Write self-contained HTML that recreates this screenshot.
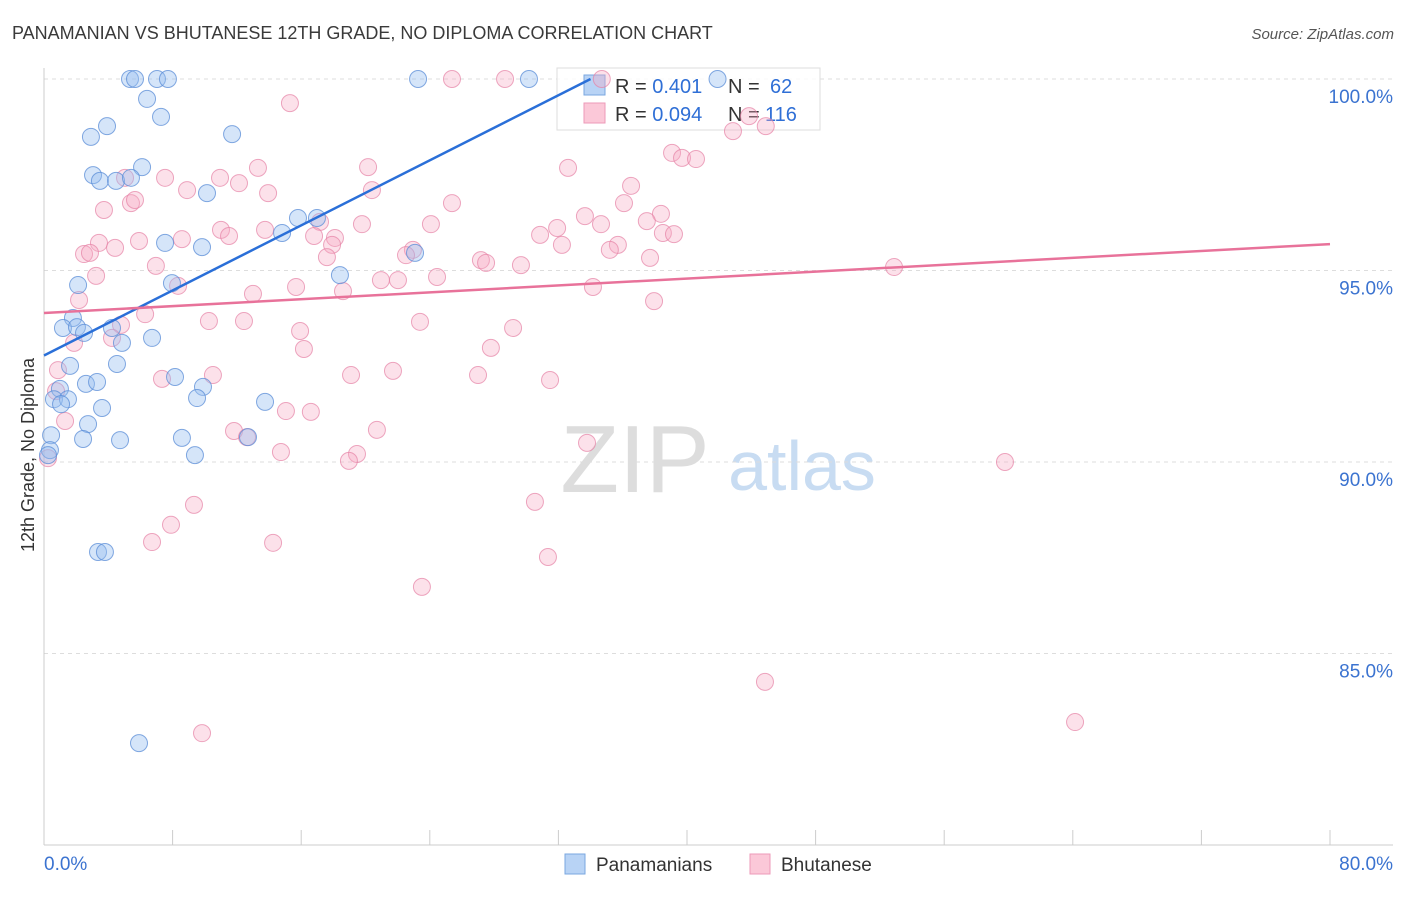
<!DOCTYPE html>
<html><head><meta charset="utf-8"><style>
body{margin:0;background:#fff;font-family:"Liberation Sans",sans-serif;}
svg text{font-family:"Liberation Sans",sans-serif;}
</style></head><body>
<svg id="chart" width="1406" height="892" xmlns="http://www.w3.org/2000/svg">
<text x="12" y="39" font-size="18" fill="#3a3a3a">PANAMANIAN VS BHUTANESE 12TH GRADE, NO DIPLOMA CORRELATION CHART</text>
<text x="1394" y="39" font-size="15" fill="#555" font-style="italic" text-anchor="end">Source: ZipAtlas.com</text>
<text transform="translate(34,455) rotate(-90)" font-size="18" fill="#333" text-anchor="middle">12th Grade, No Diploma</text>
<g>
<text x="635" y="492" font-size="96" fill="#ddd" font-family="Liberation Serif" text-anchor="middle">ZIP</text>
<text x="802" y="490" font-size="70" fill="#c8dcf2" text-anchor="middle">atlas</text>
</g>
<g id="grid"></g><g id="axes"></g>
<g>
<rect x="557" y="68" width="263" height="62" fill="rgba(255,255,255,0.85)" stroke="#ddd"/>
<rect x="584" y="75" width="21" height="20" fill="#b8d3f5" stroke="#7aa7e0"/>
<rect x="584" y="103" width="21" height="20" fill="#fbc8d8" stroke="#ec9ab8"/>
<text x="615" y="93" font-size="20" fill="#333">R = <tspan fill="#2f6fd6">0.401</tspan><tspan x="728">N = </tspan><tspan x="770" fill="#2f6fd6">62</tspan></text>
<text x="615" y="121" font-size="20" fill="#333">R = <tspan fill="#2f6fd6">0.094</tspan><tspan x="728">N = </tspan><tspan x="765" fill="#2f6fd6">116</tspan></text>
</g>
<g id="pts"></g><g id="lines"></g>
<g>
<rect x="565" y="854" width="20" height="20" fill="#b8d3f5" stroke="#7aa7e0"/>
<text x="596" y="871" font-size="19" fill="#333">Panamanians</text>
<rect x="750" y="854" width="20" height="20" fill="#fbc8d8" stroke="#ec9ab8"/>
<text x="781" y="871" font-size="19" fill="#333">Bhutanese</text>
</g>
</svg>
<script>
const yTicks=[100,95,90,85];
const yTickLabels=["100.0%","95.0%","90.0%","85.0%"];
const xTickLabels=["0.0%","80.0%"];
const blueX=[5.35,5.66,7.03,7.71,23.27,30.17,41.9,6.41,7.28,3.92,2.92,11.7,6.10,3.05,3.48,4.48,5.41,10.14,15.8,16.98,14.81,7.53,9.83,23.08,18.41,7.96,2.12,1.8,1.18,2.05,2.49,4.23,6.72,4.85,1.62,4.54,8.15,0.99,2.61,3.3,9.89,0.62,1.49,1.06,9.52,13.75,3.61,2.74,0.44,2.43,4.73,8.58,12.69,0.37,0.25,9.39,3.36,3.79,5.91];
const blueY=[100,100,100,100,100,100,100,99.48,99.01,98.77,98.49,98.56,97.70,97.49,97.34,97.34,97.42,97.02,96.37,96.37,95.98,95.72,95.61,95.46,94.88,94.67,94.62,93.76,93.5,93.52,93.37,93.5,93.24,93.11,92.51,92.56,92.22,91.91,92.04,92.09,91.96,91.64,91.64,91.51,91.67,91.57,91.41,90.99,90.7,90.6,90.57,90.63,90.65,90.31,90.18,90.18,87.65,87.65,82.66];
const pinkX=[25.38,28.68,34.7,15.3,43.86,42.86,44.9,39.07,39.69,40.56,20.16,13.31,32.6,7.53,10.95,12.13,5.04,20.4,8.9,13.94,36.52,25.38,36.08,5.41,5.66,3.73,33.65,38.38,37.5,34.65,24.07,19.78,17.17,11.01,13.75,11.51,30.86,31.92,38.5,39.19,16.8,18.1,8.58,3.42,5.91,4.42,35.7,17.92,32.22,35.2,2.49,2.86,22.95,22.52,17.6,27.18,27.5,37.7,29.67,6.96,52.88,3.24,20.96,22.02,24.45,8.34,15.68,18.6,34.15,13.0,2.18,37.95,6.29,12.44,10.26,23.39,4.79,29.18,15.93,4.23,1.87,16.17,27.8,0.87,10.51,19.1,21.71,27.0,7.34,31.48,0.75,15.05,16.6,1.31,11.82,20.71,12.63,33.78,14.74,19.47,18.97,59.78,0.25,9.33,30.54,7.9,6.72,14.25,31.35,23.51,44.85,64.14,9.83];
const pinkY=[100,100,100,99.37,99.03,98.64,98.77,98.07,97.94,97.91,97.7,97.68,97.68,97.42,97.42,97.28,97.42,97.1,97.1,97.02,97.21,96.76,96.76,96.76,96.84,96.58,96.42,96.48,96.29,96.21,96.21,96.21,96.27,96.06,96.06,95.9,95.93,96.11,95.98,95.95,95.9,95.85,95.82,95.72,95.77,95.59,95.67,95.67,95.67,95.54,95.43,95.46,95.54,95.4,95.35,95.27,95.2,95.33,95.14,95.12,95.09,94.86,94.75,94.75,94.83,94.6,94.57,94.46,94.57,94.39,94.23,94.2,93.86,93.68,93.68,93.66,93.58,93.5,93.42,93.24,93.11,92.95,92.98,92.4,92.27,92.27,92.38,92.27,92.17,92.14,91.85,91.33,91.31,91.07,90.81,90.84,90.65,90.5,90.26,90.21,90.03,90.0,90.1,88.88,88.96,88.36,87.91,87.89,87.52,86.74,84.26,83.21,82.92];
const blueTrend=[0,92.78,34,100];
const pinkTrend=[0,93.89,80,95.69];

const NS="http://www.w3.org/2000/svg";
const X0=44,X1=1330;
const sx=v=>X0+(v/80)*(X1-X0);
const sy=v=>79+(100-v)*38.3;
function mk(tag,attrs,parent){const e=document.createElementNS(NS,tag);for(const k in attrs)e.setAttribute(k,attrs[k]);parent.appendChild(e);return e;}
const grid=document.getElementById('grid'),axes=document.getElementById('axes'),pts=document.getElementById('pts'),lines=document.getElementById('lines');
yTicks.forEach((t,i)=>{
 const l=mk('line',{x1:X0,x2:1393,y1:sy(t),y2:sy(t),stroke:'#ddd','stroke-dasharray':'4,4'},grid);
 
 
 const tx=mk('text',{x:1393,y:sy(t)+24,'font-size':19,fill:'#3b73d0','text-anchor':'end'},axes);
 tx.textContent=yTickLabels[i];
 
 
});
const ax=mk('line',{x1:X0,x2:1393,y1:845,y2:845,stroke:'#ccc'},axes);


const ay=mk('line',{x1:X0,x2:X0,y1:68,y2:845,stroke:'#ccc'},axes);


for(let i=0;i<=10;i++){
 const t=mk('line',{x1:sx(i*8),x2:sx(i*8),y1:830,y2:845,stroke:'#ccc'},axes);
 
 
}
[[0,'start',X0],[80,'end',1393]].forEach((d,i)=>{
 const t=mk('text',{x:d[2],y:870,'font-size':19,fill:'#3b73d0','text-anchor':d[1]},axes);
 t.textContent=xTickLabels[i];
 
 
});
pinkX.forEach((x,i)=>{
 const c=mk('circle',{cx:sx(x),cy:sy(pinkY[i]),r:8.5,fill:'rgba(245,170,196,0.35)',stroke:'rgba(230,130,165,0.7)','stroke-width':1},pts);
 
 
});
blueX.forEach((x,i)=>{
 const c=mk('circle',{cx:sx(x),cy:sy(blueY[i]),r:8.5,fill:'rgba(150,190,240,0.4)',stroke:'rgba(90,140,215,0.75)','stroke-width':1},pts);
 
 
});
const bl=mk('line',{x1:sx(blueTrend[0]),y1:sy(blueTrend[1]),x2:sx(blueTrend[2]),y2:sy(blueTrend[3]),stroke:'#2a6fd8','stroke-width':2.5},lines);


const pl=mk('line',{x1:sx(pinkTrend[0]),y1:sy(pinkTrend[1]),x2:sx(pinkTrend[2]),y2:sy(pinkTrend[3]),stroke:'#e8729a','stroke-width':2.5},lines);


</script>
</body></html>
